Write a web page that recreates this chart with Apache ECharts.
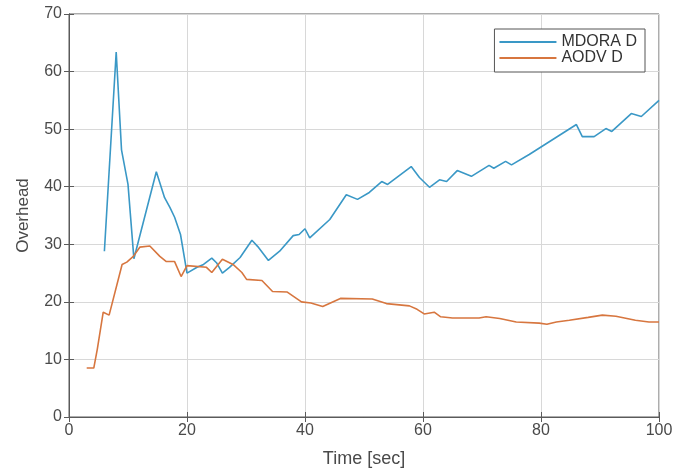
<!DOCTYPE html>
<html>
<head>
<meta charset="utf-8">
<script src="https://cdn.jsdelivr.net/npm/echarts@6/dist/echarts.min.js"></script>
<style>html,body{margin:0;padding:0;background:#fff;}#c{width:676px;height:473px;}</style>
</head>
<body>
<div id="c"></div>
<script>
const xTicks = [0, 20, 40, 60, 80, 100];
const yTicks = [0, 10, 20, 30, 40, 50, 60, 70];
const seriesNames = ['MDORA D', 'AODV D'];

const mdoraX = [6, 8, 8.9, 10, 11, 14.8, 16.2, 17.1, 17.9, 18.9, 20, 21.7, 22.8, 24.2, 25, 26, 27.2, 29, 31, 32, 33.8, 35.7, 38, 39, 40, 40.8, 44.2, 47, 48.9, 50.9, 53, 54, 58, 59.4, 61.1, 62.8, 64, 65.8, 68.2, 71.2, 72, 74, 75, 78, 86, 87, 89, 91, 92, 95.3, 97, 100];
const mdoraY = [28.8, 63.4, 46.4, 40.4, 27.5, 42.6, 38.1, 36.4, 34.7, 31.7, 25, 26, 26.5, 27.6, 26.8, 25, 26, 27.7, 30.7, 29.6, 27.2, 28.8, 31.5, 31.7, 32.7, 31.1, 34.3, 38.6, 37.8, 39, 40.9, 40.4, 43.5, 41.6, 39.9, 41.2, 40.9, 42.8, 41.8, 43.7, 43.2, 44.4, 43.8, 45.6, 50.8, 48.7, 48.7, 50.1, 49.6, 52.7, 52.2, 55];

const aodvX = [3, 4.2, 4.8, 5.8, 6.8, 9, 9.8, 10.9, 12, 13.7, 15.4, 16.5, 17.9, 19, 20, 23.3, 24.2, 26, 27.8, 29.3, 30.1, 32.7, 34.5, 37, 39.4, 41, 43, 46, 51.4, 53.8, 57.7, 59, 60.2, 61.9, 63, 65, 69.5, 70.7, 73, 75.8, 79.7, 81, 82.6, 84.8, 88, 90.4, 92.7, 96, 98.3, 100];
const aodvY = [8.5, 8.5, 11.8, 18.2, 17.7, 26.5, 26.9, 27.9, 29.5, 29.7, 27.9, 27, 27, 24.4, 26.3, 26, 25.1, 27.4, 26.5, 25.1, 23.9, 23.7, 21.8, 21.7, 20, 19.8, 19.2, 20.6, 20.5, 19.7, 19.3, 18.7, 17.9, 18.2, 17.4, 17.2, 17.2, 17.4, 17.1, 16.5, 16.3, 16.1, 16.5, 16.8, 17.3, 17.7, 17.5, 16.8, 16.5, 16.5];

const pairs = (xs, ys) => xs.map((x, i) => [x, ys[i]]);
const textColor = '#4a4a4a';
const axisColor = '#5a5a5a';
const font = 'Liberation Sans, Arial, sans-serif';

const chart = echarts.init(document.getElementById('c'));
const baseAxis = {
  axisLine: { show: true, lineStyle: { color: axisColor, width: 1 } },
  axisTick: { show: true, inside: true, length: 5, lineStyle: { color: axisColor } },
  splitLine: { show: false },
};
chart.setOption({
  animation: false,
  backgroundColor: '#fff',
  grid: { left: 69, right: 17, top: 14, bottom: 55, show: true, borderColor: axisColor, borderWidth: 1 },
  legend: {
    orient: 'vertical',
    right: 31, top: 29,
    padding: [5, 8, 6, 5],
    borderColor: '#555', borderWidth: 1,
    backgroundColor: '#fff',
    itemWidth: 57, itemHeight: 2, itemGap: 0,
    icon: 'rect',
    textStyle: { color: '#333', fontSize: 16, lineHeight: 15, fontFamily: font },
    data: seriesNames
  },
  xAxis: [
    Object.assign({}, baseAxis, {
      type: 'value', min: 0, max: 100, interval: 20,
      name: 'Time [sec]', nameLocation: 'middle', nameGap: 33,
      nameTextStyle: { color: textColor, fontSize: 18, fontFamily: font },
      axisLabel: { color: textColor, fontSize: 16, fontFamily: font, margin: 6 },
      splitLine: { show: true, lineStyle: { color: '#d8d8d8', width: 1 } }
    }),
    Object.assign({}, baseAxis, {
      type: 'value', min: 0, max: 100, interval: 20, position: 'top',
      axisLabel: { show: false }
    })
  ],
  yAxis: [
    Object.assign({}, baseAxis, {
      type: 'value', min: 0, max: 70, interval: 10,
      name: 'Overhead', nameLocation: 'middle', nameGap: 37,
      nameTextStyle: { color: textColor, fontSize: 17, fontFamily: font },
      axisLabel: { color: textColor, fontSize: 16, fontFamily: font, margin: 7 },
      splitLine: { show: true, lineStyle: { color: '#d8d8d8', width: 1 } }
    }),
    Object.assign({}, baseAxis, {
      type: 'value', min: 0, max: 70, interval: 10, position: 'right',
      axisLabel: { show: false }
    })
  ],
  series: [
    {
      name: seriesNames[0], type: 'line', symbol: 'none',
      data: pairs(mdoraX, mdoraY),
      lineStyle: { color: '#3a98c6', width: 1.6 },
      itemStyle: { color: '#3a98c6' }
    },
    {
      name: seriesNames[1], type: 'line', symbol: 'none',
      data: pairs(aodvX, aodvY),
      lineStyle: { color: '#d7763f', width: 1.6 },
      itemStyle: { color: '#d7763f' }
    }
  ]
});
</script>
</body>
</html>
